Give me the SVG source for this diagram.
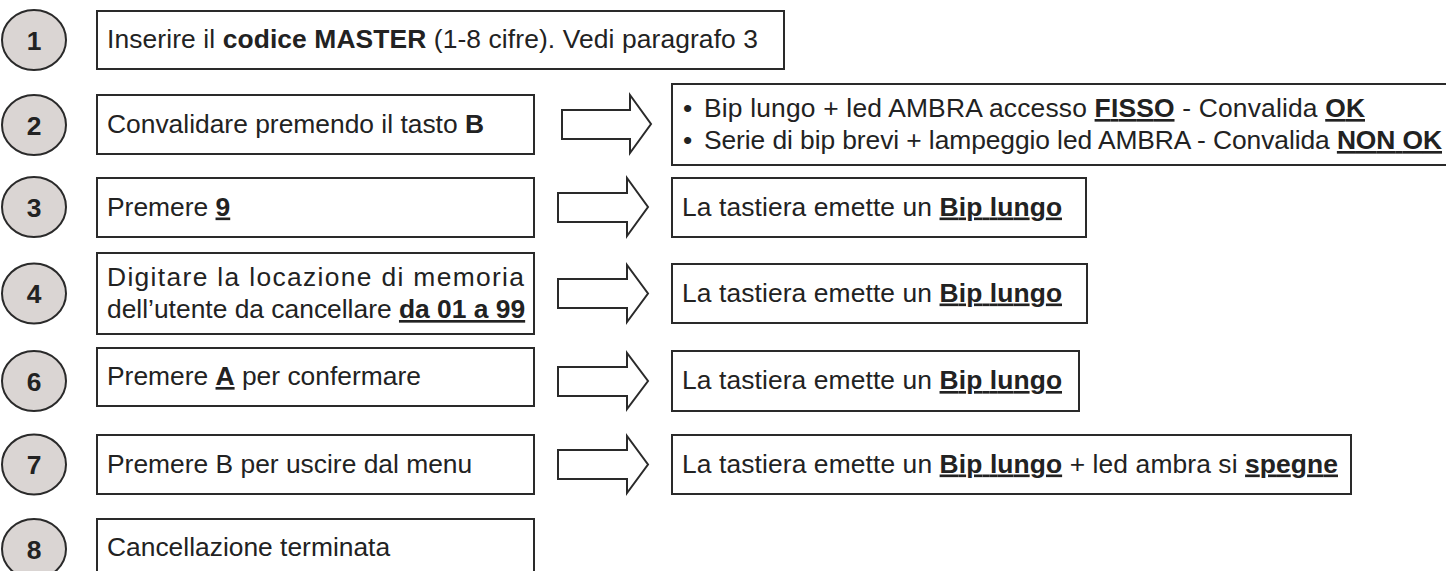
<svg xmlns="http://www.w3.org/2000/svg" width="1446" height="571" viewBox="0 0 1446 571">
<style>
.box{fill:#fff;stroke:#2a2a2a;stroke-width:2}
.num{fill:#dad5d3;stroke:#2a2a2a;stroke-width:2}
.arrow{fill:#fff;stroke:#2a2a2a;stroke-width:2;stroke-linejoin:miter}
text{font-family:"Liberation Sans",Arial,sans-serif;font-size:26.4px;fill:#222}
.n{font-weight:bold;text-anchor:middle}
.b{font-weight:bold}
.bu{font-weight:bold;text-decoration:underline}
</style>
<rect width="1446" height="571" fill="#fff"/>

<g id="step1">
<ellipse class="num" cx="34" cy="40" rx="32" ry="30"/>
<text class="n" x="34" y="49.5">1</text>
<rect class="box" x="97" y="11" width="687" height="58"/>
<text x="107" y="48" textLength="651" lengthAdjust="spacing">Inserire il <tspan class="b">codice MASTER</tspan> (1-8 cifre). Vedi paragrafo 3</text>
</g>

<g id="step2">
<ellipse class="num" cx="34" cy="125" rx="32" ry="30"/>
<text class="n" x="34" y="134.5">2</text>
<rect class="box" x="97" y="95" width="437" height="59"/>
<text x="107" y="132.5">Convalidare premendo il tasto <tspan class="b">B</tspan></text>
</g>

<g id="result2">
<rect class="box" x="672" y="84" width="790" height="81"/>
<text x="683" y="117">•</text>
<text x="704" y="117" textLength="661" lengthAdjust="spacing">Bip lungo + led AMBRA accesso <tspan class="bu">FISSO</tspan> - Convalida <tspan class="bu">OK</tspan></text>
<text x="683" y="149">•</text>
<text x="704" y="149" textLength="738" lengthAdjust="spacing">Serie di bip brevi + lampeggio led AMBRA - Convalida <tspan class="bu">NON OK</tspan></text>
</g>

<g id="step3">
<ellipse class="num" cx="34" cy="207" rx="32" ry="30"/>
<text class="n" x="34" y="216.5">3</text>
<rect class="box" x="97" y="178" width="437" height="59"/>
<text x="107" y="215.5">Premere <tspan class="bu">9</tspan></text>
</g>

<g id="result3">
<rect class="box" x="672" y="178" width="414" height="59"/>
<text x="682" y="215.5" textLength="380" lengthAdjust="spacing">La tastiera emette un <tspan class="bu">Bip lungo</tspan></text>
</g>

<g id="step4">
<ellipse class="num" cx="34" cy="293.5" rx="32" ry="30"/>
<text class="n" x="34" y="303">4</text>
<rect class="box" x="97" y="253" width="437" height="81"/>
<text x="107" y="286" textLength="417" lengthAdjust="spacing">Digitare la locazione di memoria</text>
<text x="107" y="318">dell’utente da cancellare <tspan class="bu">da 01 a 99</tspan></text>
</g>

<g id="result4">
<rect class="box" x="672" y="264" width="415" height="59"/>
<text x="682" y="301.5" textLength="380" lengthAdjust="spacing">La tastiera emette un <tspan class="bu">Bip lungo</tspan></text>
</g>

<g id="step6">
<ellipse class="num" cx="34" cy="381" rx="32" ry="30"/>
<text class="n" x="34" y="390.5">6</text>
<rect class="box" x="97" y="348" width="437" height="58"/>
<text x="107" y="385">Premere <tspan class="bu">A</tspan> per confermare</text>
</g>

<g id="result6">
<rect class="box" x="672" y="351" width="407" height="60"/>
<text x="682" y="389" textLength="380" lengthAdjust="spacing">La tastiera emette un <tspan class="bu">Bip lungo</tspan></text>
</g>

<g id="step7">
<ellipse class="num" cx="34" cy="464.5" rx="32" ry="30"/>
<text class="n" x="34" y="474">7</text>
<rect class="box" x="97" y="435" width="437" height="59"/>
<text x="107" y="472.5">Premere B per uscire dal menu</text>
</g>

<g id="result7">
<rect class="box" x="672" y="435" width="679" height="59"/>
<text x="682" y="472.5" textLength="656" lengthAdjust="spacing">La tastiera emette un <tspan class="bu">Bip lungo</tspan> + led ambra si <tspan class="bu">spegne</tspan></text>
</g>

<g id="step8">
<ellipse class="num" cx="34" cy="549" rx="32" ry="30"/>
<text class="n" x="34" y="558.5">8</text>
<rect class="box" x="97" y="519" width="437" height="70"/>
<text x="107" y="556">Cancellazione terminata</text>
</g>

<g id="connectors">
<polygon class="arrow" points="562,110 630,110 630,95 651,124 630,153 630,139 562,139"/>
<polygon class="arrow" points="558,193 627,193 627,178 648,207 627,236 627,222 558,222"/>
<polygon class="arrow" points="558,279 627,279 627,265 648,293.5 627,322 627,308 558,308"/>
<polygon class="arrow" points="558,367 627,367 627,353 648,381 627,409 627,396 558,396"/>
<polygon class="arrow" points="558,450 627,450 627,436 648,464.5 627,493 627,479 558,479"/>
</g>
</svg>
